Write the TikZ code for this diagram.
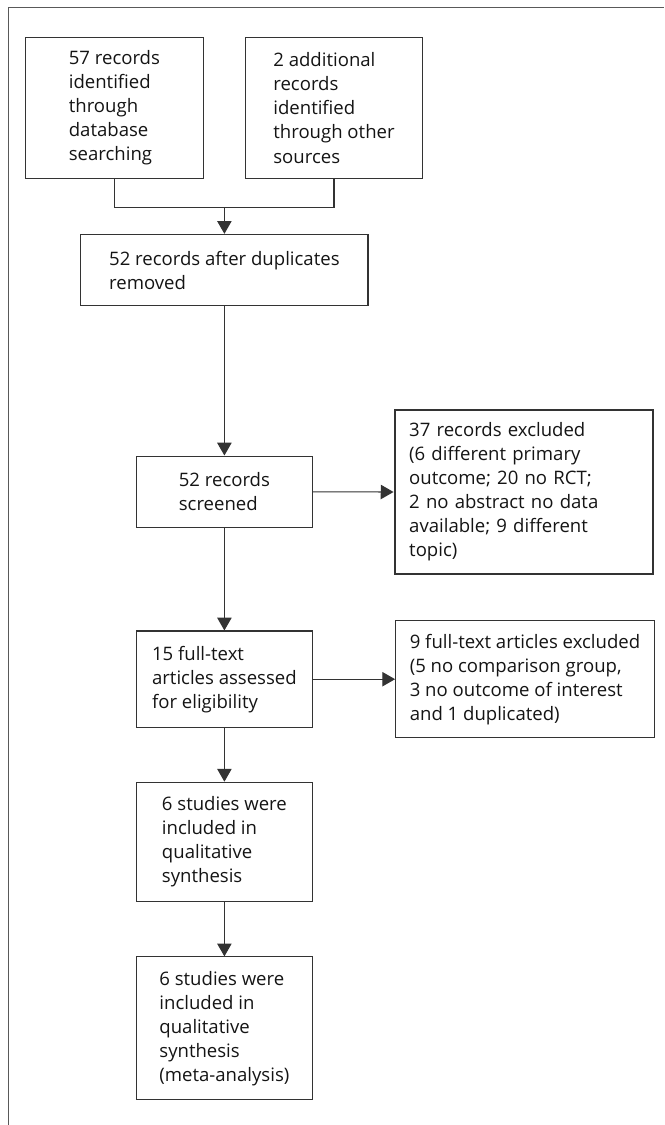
\documentclass[tikz,border=0pt]{standalone}
\usepackage{fontspec}
\setmainfont{Open Sans}
\usetikzlibrary{arrows.meta}

\begin{document}
\begin{tikzpicture}[
  every node/.style={font=\fontsize{13.2}{17.1}\selectfont, text=black!92},
  box/.style={draw=black!80, line width=0.75pt, rectangle, align=left,
              inner sep=0pt, minimum width=4.415cm},
  excl/.style={box, minimum width=6.45cm},
  arr/.style={draw=black!80, line width=0.75pt,
              -{Triangle[width=3.6mm,length=3.2mm]}},
  link/.style={draw=black!80, line width=0.75pt},
]
\useasboundingbox (0,0) rectangle (16.6,-28.125);

%% ── Outer frame ───────────────────────────────────────────────────────────────
\draw[black!65, line width=0.9pt] (0.22,-28.125) -- (0.22,-0.18) -- (16.6,-0.18);

%% ── Identification ────────────────────────────────────────────────────────────
\node[box, minimum width=4.44cm, minimum height=3.535cm] (db) at (2.86,-2.70)
  {57 records\\identified\\through\\database\\searching};
\node[box, minimum width=4.43cm, minimum height=3.535cm] (other) at (8.35,-2.70)
  {2 additional\\records\\identified\\through other\\sources};
\coordinate (join) at (5.61,-5.19);
\draw[link] (db.south) |- (join) -| (other.south);

\node[box, minimum width=7.18cm, minimum height=1.79cm] (dup) at (5.61,-6.754)
  {52 records after duplicates\\removed};
\draw[arr] (join) -- (dup.north);

%% ── Screening ─────────────────────────────────────────────────────────────────
\node[box, minimum height=1.79cm] (screen) at (5.61,-12.296)
  {52 records\\screened};
\draw[arr] (dup.south) -- (screen.north);

\node[excl, line width=1.5pt, minimum height=4.1cm, text width=5.72cm]
  (exclrec) at (13.09,-12.3)
  {37 records excluded\\(6 different primary\\outcome; 20 no RCT;\\2 no abstract no data\\available; 9 different\\topic)};
\draw[arr] (screen.east) -- (exclrec.west);

%% ── Eligibility ───────────────────────────────────────────────────────────────
\node[box, minimum height=2.41cm] (full) at (5.61,-16.98)
  {15 full-text\\articles assessed\\for eligibility};
\draw[arr] (screen.south) -- (full.north);

\node[excl, minimum width=6.47cm, minimum height=2.925cm] (exclfull) at (13.125,-16.98)
  {9 full-text articles excluded\\(5 no comparison group,\\3 no outcome of interest\\and 1 duplicated)};
\draw[arr] (full.east) -- (exclfull.west);

%% ── Included ──────────────────────────────────────────────────────────────────
\node[box, minimum height=2.99cm] (qual) at (5.61,-21.05)
  {6 studies were\\included in\\qualitative\\synthesis};
\draw[arr] (full.south) -- (qual.north);

\node[box, minimum height=3.575cm] (meta) at (5.61,-25.71)
  {6 studies were\\included in\\qualitative\\synthesis\\(meta-analysis)};
\draw[arr] (qual.south) -- (meta.north);

\end{tikzpicture}
\end{document}
